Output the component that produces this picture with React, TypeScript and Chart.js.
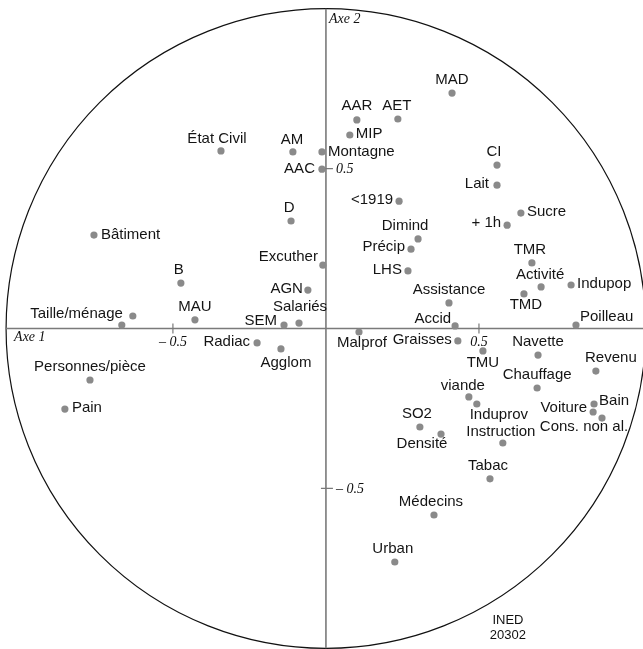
import React, { useEffect, useRef } from 'react';
import { Chart, registerables } from 'chart.js';

Chart.register(...registerables);

// Variables of the correlation circle (Axe 1 / Axe 2 coordinates)
const variables = [
  'MAD', 'AAR', 'AET', 'MIP', 'AM', 'Montagne', 'État Civil', 'AAC', 'CI', 'Lait',
  '<1919', 'Sucre', '+ 1h', 'D', 'Bâtiment', 'Dimind', 'Précip', 'LHS', 'TMR', 'Activité',
  'Indupop', 'TMD', 'Assistance', 'Taille/ménage', 'MAU', 'B', 'Excuther', 'AGN', 'Salariés', 'SEM',
  'Accid', 'Poilleau', 'Malprof', 'Graisses', 'TMU', 'Navette', 'Revenu', 'Chauffage', 'viande', 'Induprov',
  'Bain', 'Voiture', 'Cons. non al.', 'Pain', 'Personnes/pièce', 'Radiac', 'Agglom', 'SO2', 'Densité', 'Instruction',
  'Tabac', 'Médecins', 'Urban', '',
];

const axis1 = [
  0.412, 0.101, 0.235, 0.078, -0.108, -0.013, -0.343, -0.013, 0.559, 0.559,
  0.239, 0.637, 0.592, -0.114, -0.758, 0.301, 0.278, 0.268, 0.673, 0.703,
  0.801, 0.647, 0.402, -0.631, -0.428, -0.474, -0.010, -0.059, -0.088, -0.137,
  0.422, 0.817, 0.108, 0.431, 0.513, 0.693, 0.882, 0.690, 0.467, 0.493,
  0.876, 0.873, 0.902, -0.853, -0.771, -0.225, -0.147, 0.307, 0.376, 0.578,
  0.536, 0.353, 0.225, -0.667,
];

const axis2 = [
  0.736, 0.652, 0.655, 0.605, 0.552, 0.552, 0.555, 0.498, 0.511, 0.448,
  0.398, 0.361, 0.323, 0.336, 0.292, 0.280, 0.248, 0.180, 0.205, 0.130,
  0.136, 0.108, 0.080, 0.039, 0.027, 0.142, 0.198, 0.120, 0.017, 0.011,
  0.008, 0.011, -0.011, -0.039, -0.070, -0.083, -0.133, -0.186, -0.214, -0.236,
  -0.236, -0.261, -0.280, -0.252, -0.161, -0.045, -0.064, -0.308, -0.330, -0.358,
  -0.470, -0.583, -0.730, 0.011,
];

const tickValues = [-0.5, 0.5];
const tickLabelsX = ['– 0.5', '0.5'];
const tickLabelsY = ['– 0.5', '0.5'];
const axisTitles = ['Axe 1', 'Axe 2'];
const sourceLines = ['INED', '20302'];

// label placement: [dx, dy, align] relative to the dot (style, not data)
type Align = 'c' | 'l' | 'r';
const labelPlacement: Record<string, [number, number, Align]> = {
  'MAD': [0, -13, 'c'], 'AAR': [0, -14, 'c'], 'AET': [-1, -13, 'c'], 'MIP': [6, -1, 'l'],
  'AM': [-1, -12, 'c'], 'Montagne': [6, 0, 'l'], 'État Civil': [-4, -12, 'c'], 'AAC': [-7, 0, 'r'],
  'CI': [-3, -13, 'c'], 'Lait': [-8, -1, 'r'], '<1919': [-6, -1, 'r'], 'Sucre': [6, -1, 'l'],
  '+ 1h': [-6, -2, 'r'], 'D': [-2, -13, 'c'], 'Bâtiment': [7, 0, 'l'], 'Dimind': [-13, -13, 'c'],
  'Précip': [-6, -2, 'r'], 'LHS': [-6, -1, 'r'], 'TMR': [-2, -13, 'c'], 'Activité': [-1, -12, 'c'],
  'Indupop': [6, -1, 'l'], 'TMD': [2, 11, 'c'], 'Assistance': [0, -13, 'c'], 'Taille/ménage': [-10, -2, 'r'],
  'MAU': [0, -13, 'c'], 'B': [-2, -13, 'c'], 'Excuther': [-5, -8, 'r'], 'AGN': [-5, -1, 'r'],
  'Salariés': [1, -16, 'c'], 'SEM': [-7, -4, 'r'], 'Accid': [-4, -7, 'r'], 'Poilleau': [4, -8, 'l'],
  'Malprof': [3, 11, 'c'], 'Graisses': [-6, -1, 'r'], 'TMU': [0, 12, 'c'], 'Navette': [0, -13, 'c'],
  'Revenu': [15, -13, 'c'], 'Chauffage': [0, -13, 'c'], 'viande': [-6, -11, 'c'], 'Induprov': [22, 11, 'c'],
  'Bain': [5, -3, 'l'], 'Voiture': [-6, -4, 'r'], 'Cons. non al.': [-18, 9, 'c'], 'Pain': [7, -1, 'l'],
  'Personnes/pièce': [0, -13, 'c'], 'Radiac': [-7, -1, 'r'], 'Agglom': [5, 14, 'c'], 'SO2': [-3, -13, 'c'],
  'Densité': [-19, 10, 'c'], 'Instruction': [-2, -11, 'c'], 'Tabac': [-2, -13, 'c'], 'Médecins': [-3, -13, 'c'],
  'Urban': [-2, -13, 'c'],
};

const X_MIN = -1.065;
const X_MAX = 1.036;
const Y_MIN = -1.002;
const Y_MAX = 1.027;

const SANS = '"Liberation Sans", Arial, Helvetica, sans-serif';
const SERIF = '"Liberation Serif", "Times New Roman", serif';

const circlePlugin = {
  id: 'circleDecor',
  beforeDatasetsDraw(chart: any) {
    const { ctx } = chart;
    const xs = chart.scales.x;
    const ys = chart.scales.y;
    const cx = xs.getPixelForValue(0);
    const cy = ys.getPixelForValue(0);
    const r = ys.getPixelForValue(0) - ys.getPixelForValue(1);
    ctx.save();
    // circle
    ctx.beginPath();
    ctx.arc(cx, cy, r, 0, Math.PI * 2);
    ctx.strokeStyle = '#111';
    ctx.lineWidth = 1.2;
    ctx.stroke();
    // axes
    ctx.strokeStyle = '#7a7a7a';
    ctx.lineWidth = 1.6;
    ctx.beginPath();
    ctx.moveTo(cx, cy - r);
    ctx.lineTo(cx, cy + r);
    ctx.moveTo(cx - r, cy);
    ctx.lineTo(cx + r, cy);
    ctx.stroke();
    // ticks
    ctx.lineWidth = 1.2;
    ctx.beginPath();
    tickValues.forEach((v) => {
      const px = xs.getPixelForValue(v);
      ctx.moveTo(px, cy - 5);
      ctx.lineTo(px, cy + 5);
      const py = ys.getPixelForValue(v);
      ctx.moveTo(cx - 5, py);
      ctx.lineTo(cx + 7, py);
    });
    ctx.stroke();
    // tick labels
    ctx.fillStyle = '#111';
    ctx.font = `italic 14px ${SERIF}`;
    ctx.textBaseline = 'middle';
    tickValues.forEach((v, i) => {
      const px = xs.getPixelForValue(v);
      ctx.textAlign = 'center';
      ctx.fillText(tickLabelsX[i], px, cy + 14);
      const py = ys.getPixelForValue(v);
      ctx.textAlign = 'left';
      ctx.fillText(tickLabelsY[i], cx + 10, py + 1);
    });
    // axis titles
    ctx.textAlign = 'left';
    ctx.fillText(axisTitles[0], cx - r + 8, cy + 9);
    ctx.fillText(axisTitles[1], cx + 3, cy - r + 11);
    // source
    ctx.font = `13px ${SANS}`;
    ctx.textAlign = 'center';
    ctx.fillText(sourceLines[0], cx + 182, cy + 292);
    ctx.fillText(sourceLines[1], cx + 182, cy + 307);
    ctx.restore();
  },
  afterDatasetsDraw(chart: any) {
    const { ctx } = chart;
    const meta = chart.getDatasetMeta(0);
    ctx.save();
    ctx.fillStyle = '#141414';
    ctx.font = `15px ${SANS}`;
    ctx.textBaseline = 'middle';
    variables.forEach((name, i) => {
      if (!name) return;
      const el = meta.data[i];
      const p = labelPlacement[name] || [0, -13, 'c'];
      ctx.textAlign = p[2] === 'c' ? 'center' : p[2] === 'l' ? 'left' : 'right';
      ctx.fillText(name, el.x + p[0], el.y + p[1]);
    });
    ctx.restore();
  },
};

export default function App() {
  const canvasRef = useRef<HTMLCanvasElement | null>(null);

  useEffect(() => {
    if (!canvasRef.current) return;
    const chart = new Chart(canvasRef.current, {
      type: 'scatter',
      data: {
        datasets: [
          {
            data: axis1.map((x, i) => ({ x, y: axis2[i] })),
            backgroundColor: '#8a8a8a',
            borderWidth: 0,
            pointRadius: 3.6,
            clip: false,
          },
        ],
      },
      options: {
        animation: false,
        responsive: false,
        layout: { padding: 0, autoPadding: false },
        plugins: { legend: { display: false }, tooltip: { enabled: false } },
        scales: {
          x: { type: 'linear', min: X_MIN, max: X_MAX, display: false },
          y: { type: 'linear', min: Y_MIN, max: Y_MAX, display: false },
        },
      },
      plugins: [circlePlugin],
    });
    return () => chart.destroy();
  }, []);

  return (
    <div style={{ position: 'fixed', left: 0, top: 0, width: 643, height: 649, background: '#fff' }}>
      <canvas ref={canvasRef} width={643} height={649} style={{ display: 'block' }} />
    </div>
  );
}
